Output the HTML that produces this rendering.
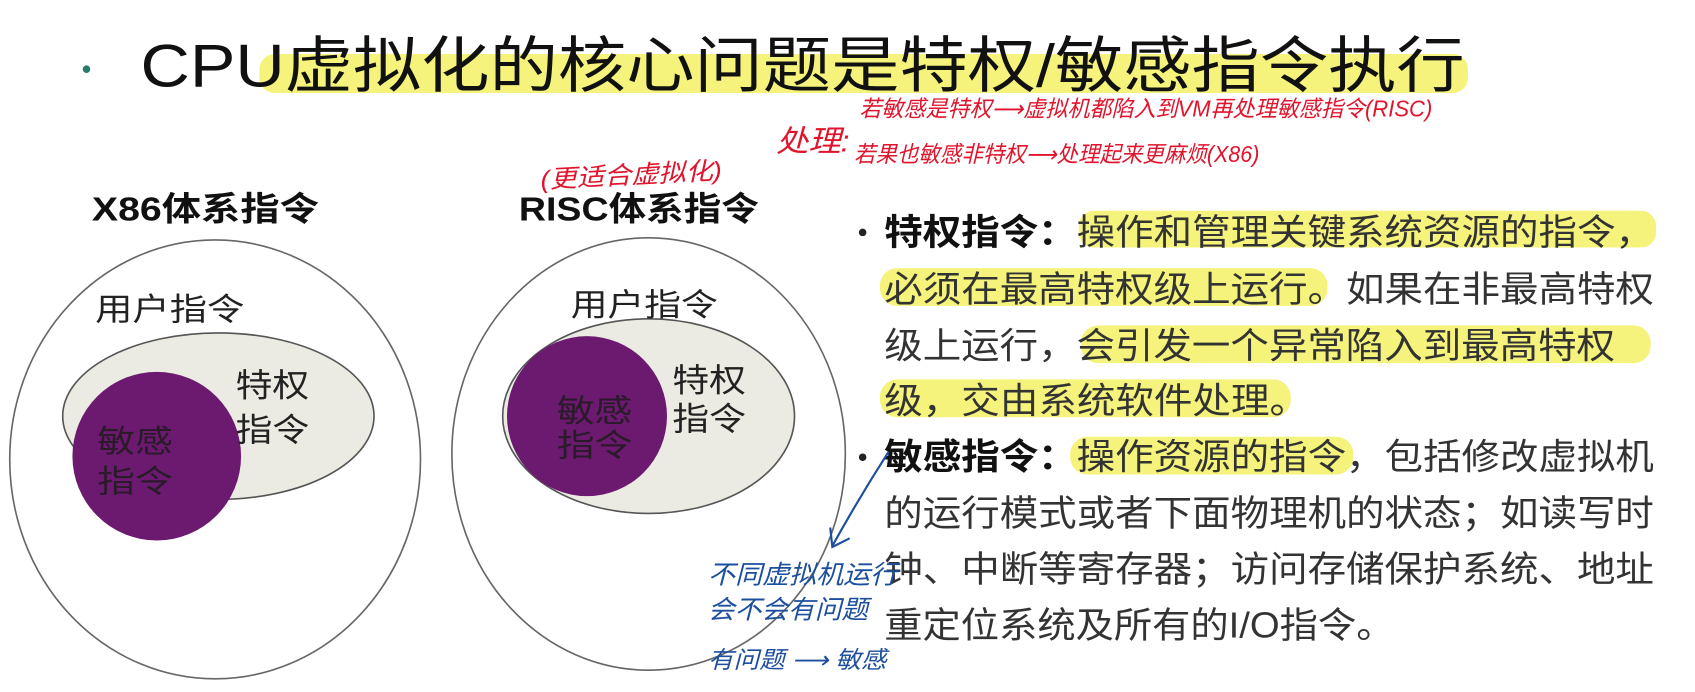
<!DOCTYPE html>
<html><head><meta charset="utf-8"><style>
html,body{margin:0;padding:0;background:#fff;}
svg{display:block;}
text{font-family:"Liberation Sans","Noto Sans CJK SC",sans-serif;}
</style></head><body>
<svg width="1695" height="692" viewBox="0 0 1568 640.2" preserveAspectRatio="none" xmlns="http://www.w3.org/2000/svg">
<rect width="1568" height="641" fill="#fff"/>
<!-- title -->
<rect x="240" y="50" width="1118" height="36" rx="14" fill="#f6f37c"/>
<circle cx="80" cy="64" r="3.5" fill="#2a7a6a"/>
<text x="130" y="80" font-size="56" fill="#111" textLength="1225" lengthAdjust="spacingAndGlyphs">CPU虚拟化的核心问题是特权/敏感指令执行</text>

<!-- red annotations -->
<g fill="#e0142c" font-family="'Noto Sans CJK SC',sans-serif" font-style="italic">
<text x="795" y="108" font-size="21" textLength="530" lengthAdjust="spacingAndGlyphs">若敏感是特权⟶虚拟机都陷入到VM再处理敏感指令(RISC)</text>
<text x="718" y="140" font-size="28" textLength="68" lengthAdjust="spacingAndGlyphs">处理:</text>
<text x="790" y="150" font-size="21" textLength="375" lengthAdjust="spacingAndGlyphs">若果也敏感非特权⟶处理起来更麻烦(X86)</text>
<text x="500" y="170" font-size="23" textLength="168" lengthAdjust="spacingAndGlyphs" transform="rotate(-3 580 165)">(更适合虚拟化)</text>
</g>

<!-- headings -->
<text x="85" y="204" font-size="31" font-weight="bold" fill="#111" textLength="210" lengthAdjust="spacingAndGlyphs">X86体系指令</text>
<text x="480" y="204" font-size="31" font-weight="bold" fill="#111" textLength="222" lengthAdjust="spacingAndGlyphs">RISC体系指令</text>

<!-- left diagram -->
<ellipse cx="199" cy="425" rx="190" ry="203" fill="#fff" stroke="#666" stroke-width="1.5"/>
<ellipse cx="202" cy="385" rx="144" ry="77" fill="#ecebe3" stroke="#555" stroke-width="1.5"/>
<circle cx="145" cy="422" r="78" fill="#6b1a6f"/>
<text x="88" y="296" font-size="29" fill="#222" textLength="138" lengthAdjust="spacingAndGlyphs">用户指令</text>
<text x="218" y="367" font-size="30" fill="#222" textLength="68" lengthAdjust="spacingAndGlyphs">特权</text>
<text x="218" y="408" font-size="30" fill="#222" textLength="68" lengthAdjust="spacingAndGlyphs">指令</text>
<text x="90" y="418" font-size="29" fill="#2a1a2a" textLength="70" lengthAdjust="spacingAndGlyphs">敏感</text>
<text x="90" y="455" font-size="29" fill="#2a1a2a" textLength="70" lengthAdjust="spacingAndGlyphs">指令</text>

<!-- right diagram -->
<ellipse cx="600" cy="420" rx="182" ry="200" fill="#fff" stroke="#666" stroke-width="1.5"/>
<ellipse cx="600" cy="385" rx="135" ry="90" fill="#ecebe3" stroke="#555" stroke-width="1.5"/>
<circle cx="543" cy="385" r="74" fill="#6b1a6f"/>
<text x="528" y="292" font-size="29" fill="#222" textLength="136" lengthAdjust="spacingAndGlyphs">用户指令</text>
<text x="622" y="362" font-size="30" fill="#222" textLength="68" lengthAdjust="spacingAndGlyphs">特权</text>
<text x="622" y="398" font-size="30" fill="#222" textLength="68" lengthAdjust="spacingAndGlyphs">指令</text>
<text x="515" y="390" font-size="29" fill="#2a1a2a" textLength="70" lengthAdjust="spacingAndGlyphs">敏感</text>
<text x="515" y="422" font-size="29" fill="#2a1a2a" textLength="70" lengthAdjust="spacingAndGlyphs">指令</text>

<!-- highlights right text -->
<g fill="#f6f37c">
<rect x="998" y="195" width="534" height="34" rx="14"/>
<rect x="814" y="248" width="414" height="35" rx="16"/>
<rect x="1000" y="301" width="527" height="35" rx="16"/>
<rect x="814" y="351" width="380" height="35" rx="16"/>
<rect x="990" y="404" width="262" height="35" rx="16"/>
</g>
<g font-size="33" fill="#333">
<circle cx="798" cy="215" r="3.5" fill="#222"/>
<text x="818" y="226" textLength="712" lengthAdjust="spacingAndGlyphs"><tspan font-weight="bold" fill="#111">特权指令：</tspan>操作和管理关键系统资源的指令，</text>
<text x="818" y="279" textLength="712" lengthAdjust="spacingAndGlyphs">必须在最高特权级上运行。如果在非最高特权</text>
<text x="818" y="331" textLength="676" lengthAdjust="spacingAndGlyphs">级上运行，会引发一个异常陷入到最高特权</text>
<text x="818" y="382" textLength="392" lengthAdjust="spacingAndGlyphs">级，交由系统软件处理。</text>
<circle cx="798" cy="423" r="3.5" fill="#222"/>
<text x="818" y="434" textLength="712" lengthAdjust="spacingAndGlyphs"><tspan font-weight="bold" fill="#111">敏感指令：</tspan>操作资源的指令，包括修改虚拟机</text>
<text x="818" y="486" textLength="712" lengthAdjust="spacingAndGlyphs">的运行模式或者下面物理机的状态；如读写时</text>
<text x="818" y="538" textLength="712" lengthAdjust="spacingAndGlyphs">钟、中断等寄存器；访问存储保护系统、地址</text>
<text x="818" y="590" textLength="472" lengthAdjust="spacingAndGlyphs">重定位系统及所有的I/O指令。</text>
</g>

<!-- blue annotations -->
<path d="M822 418 Q795 460 770 505" fill="none" stroke="#1d4f9e" stroke-width="2"/>
<path d="M768 488 L770 506 L786 498" fill="none" stroke="#1d4f9e" stroke-width="2"/>
<g fill="#1d4f9e" font-family="'Noto Sans CJK SC',sans-serif" font-style="italic">
<text x="655" y="540" font-size="24" textLength="175" lengthAdjust="spacingAndGlyphs">不同虚拟机运行</text>
<text x="655" y="572" font-size="24" textLength="148" lengthAdjust="spacingAndGlyphs">会不会有问题</text>
<text x="655" y="618" font-size="22" textLength="165" lengthAdjust="spacingAndGlyphs">有问题 ⟶ 敏感</text>
</g>
</svg>
</body></html>
